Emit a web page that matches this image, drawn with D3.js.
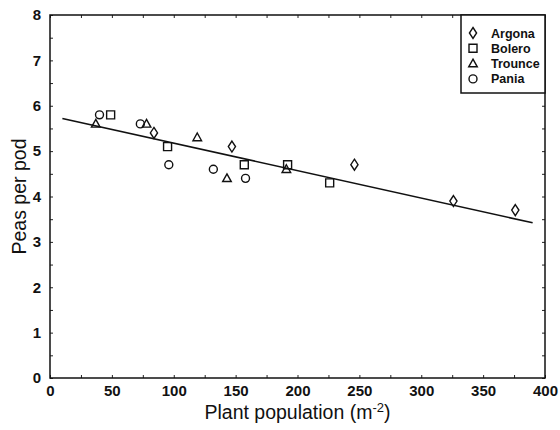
<!DOCTYPE html>
<html>
<head>
<meta charset="utf-8">
<script src="https://cdn.jsdelivr.net/npm/d3@7"></script>
<style>
  body { margin: 0; background: #fff; }
  text { font-family: "Liberation Sans", Arial, sans-serif; fill: #111; }
</style>
</head>
<body>
<div id="scatter"></div>
<script>
var svgWidth = 560;
var svgHeight = 430;

var margin = { top: 15, right: 15, bottom: 52, left: 50 };
var width = svgWidth - margin.left - margin.right;
var height = svgHeight - margin.top - margin.bottom;

// data
var argonaX = [84, 147, 246, 326, 376];
var argonaY = [5.4, 5.1, 4.7, 3.9, 3.7];
var boleroX = [49, 95, 157, 192, 226];
var boleroY = [5.8, 5.1, 4.7, 4.7, 4.3];
var trounceX = [37, 78, 119, 143, 191];
var trounceY = [5.6, 5.6, 5.3, 4.4, 4.6];
var paniaX = [40, 73, 96, 132, 158];
var paniaY = [5.8, 5.6, 4.7, 4.6, 4.4];

// fitted line end points
var fitX = [10, 390];
var fitY = [5.72, 3.42];

var xTicks = [0, 50, 100, 150, 200, 250, 300, 350, 400];
var yTicks = [0, 1, 2, 3, 4, 5, 6, 7, 8];

var seriesNames = ["Argona", "Bolero", "Trounce", "Pania"];

var series = [
  { name: "Argona", xs: argonaX, ys: argonaY, shape: "diamond" },
  { name: "Bolero", xs: boleroX, ys: boleroY, shape: "square" },
  { name: "Trounce", xs: trounceX, ys: trounceY, shape: "triangle" },
  { name: "Pania", xs: paniaX, ys: paniaY, shape: "circle" }
];

var svg = d3.select("#scatter").append("svg")
    .attr("width", svgWidth)
    .attr("height", svgHeight);

var chart = svg.append("g")
  .attr("transform", `translate(${margin.left}, ${margin.top})`);

var x = d3.scaleLinear().domain([0, 400]).range([0, width]);
var y = d3.scaleLinear().domain([0, 8]).range([height, 0]);

var minorX = d3.range(0, 401, 25);
var minorY = d3.range(0, 8.01, 0.5);

// inward ticks on all four sides
function ticksGroup(axis, tr) {
  var g = chart.append("g").attr("transform", tr).call(axis);
  g.select(".domain").remove();
  g.selectAll("line").attr("stroke", "#222").attr("stroke-width", 1);
  return g;
}

ticksGroup(d3.axisBottom(x).tickValues(minorX).tickSize(-3).tickFormat(""), `translate(0,${height})`);
ticksGroup(d3.axisTop(x).tickValues(minorX).tickSize(-3).tickFormat(""), "translate(0,0)");
ticksGroup(d3.axisLeft(y).tickValues(minorY).tickSize(-3).tickFormat(""), "translate(0,0)");
ticksGroup(d3.axisRight(y).tickValues(minorY).tickSize(-3).tickFormat(""), `translate(${width},0)`);

// tick labels
var xa = chart.append("g")
  .attr("transform", `translate(0,${height})`)
  .call(d3.axisBottom(x).tickValues(xTicks).tickSize(0).tickPadding(7));
xa.select(".domain").remove();
xa.selectAll("text")
  .style("font-size", "15px")
  .style("font-weight", "bold")
  .style("font-family", "Liberation Sans, Arial, sans-serif");

var ya = chart.append("g")
  .call(d3.axisLeft(y).tickValues(yTicks).tickSize(0).tickPadding(9));
ya.select(".domain").remove();
ya.selectAll("text")
  .style("font-size", "15px")
  .style("font-weight", "bold")
  .style("font-family", "Liberation Sans, Arial, sans-serif");

// frame
chart.append("rect")
  .attr("width", width)
  .attr("height", height)
  .attr("fill", "none")
  .attr("stroke", "#111")
  .attr("stroke-width", 1.5);

// fitted line
chart.append("line")
  .attr("x1", x(fitX[0])).attr("y1", y(fitY[0]))
  .attr("x2", x(fitX[1])).attr("y2", y(fitY[1]))
  .attr("stroke", "#111")
  .attr("stroke-width", 1.6);

function symbolPath(shape) {
  if (shape === "diamond") return "M0,-5.5L3.6,0L0,5.5L-3.6,0Z";
  if (shape === "square") return "M-4,-4H4V4H-4Z";
  if (shape === "triangle") return "M0,-4.5L4.3,3.2H-4.3Z";
  return d3.symbol().type(d3.symbolCircle).size(50)();
}

series.forEach(function(s) {
  chart.selectAll(".pt-" + s.name)
    .data(s.xs)
    .enter()
    .append("path")
      .attr("d", symbolPath(s.shape))
      .attr("transform", function(d, i) {
        return `translate(${x(d)},${y(s.ys[i])})`;
      })
      .attr("fill", "none")
      .attr("stroke", "#111")
      .attr("stroke-width", 1.4);
});

// legend box
var legend = chart.append("g").attr("transform", `translate(${width - 84},0)`);
legend.append("rect")
  .attr("width", 84)
  .attr("height", 78)
  .attr("fill", "#fff")
  .attr("stroke", "#111")
  .attr("stroke-width", 1.5);

series.forEach(function(s, i) {
  var ly = 18 + i * 15.3;
  legend.append("path")
    .attr("d", symbolPath(s.shape))
    .attr("transform", `translate(12,${ly})`)
    .attr("fill", "none")
    .attr("stroke", "#111")
    .attr("stroke-width", 1.4);
  legend.append("text")
    .attr("x", 30)
    .attr("y", ly + 4.5)
    .style("font-size", "12.5px")
    .style("font-weight", "bold")
    .text(seriesNames[i]);
});

// axis titles
var xTitle = svg.append("text")
  .attr("x", margin.left + width / 2)
  .attr("y", 419)
  .attr("text-anchor", "middle")
  .style("font-size", "19.5px");
xTitle.append("tspan").text("Plant population (m");
xTitle.append("tspan").attr("dy", -7).style("font-size", "13px").text("-2");
xTitle.append("tspan").attr("dy", 7).text(")");

svg.append("text")
  .attr("transform", `translate(26,${margin.top + height / 2}) rotate(-90)`)
  .attr("text-anchor", "middle")
  .style("font-size", "19.5px")
  .text("Peas per pod");
</script>
</body>
</html>
